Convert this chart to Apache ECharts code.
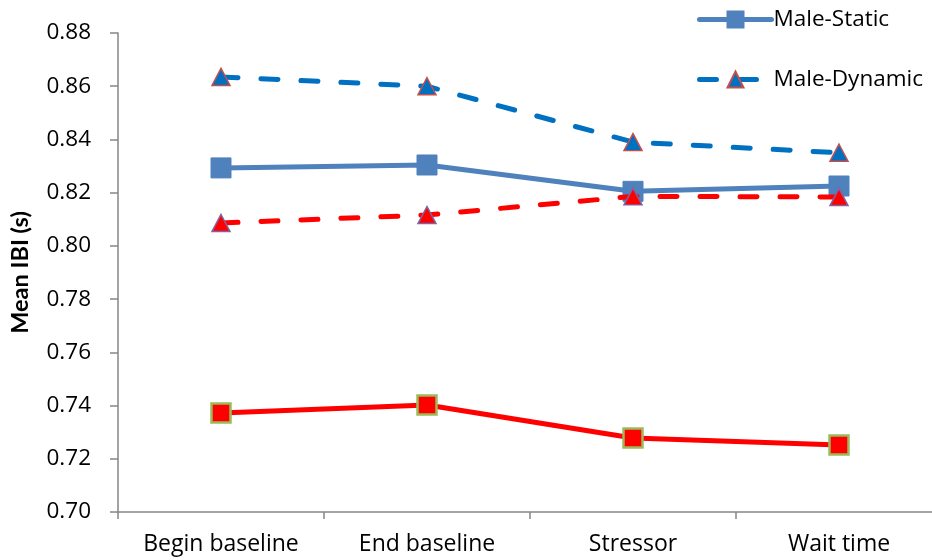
<!DOCTYPE html>
<html><head><meta charset="utf-8">
<script src="https://cdn.jsdelivr.net/npm/echarts@6/dist/echarts.min.js"></script>
<style>html,body{margin:0;padding:0;background:#fff;overflow:hidden;width:932px;height:560px}#c{width:942px;height:560px}</style>
</head><body><div id="c"></div>
<script>
const categories = ['Begin baseline', 'End baseline', 'Stressor', 'Wait time'];
const maleStatic = [0.8293, 0.8304, 0.8205, 0.8225];
const maleDynamic = [0.8635, 0.8600, 0.8390, 0.8350];
const femaleStatic = [0.7372, 0.7402, 0.7278, 0.7252];
const femaleDynamic = [0.8086, 0.8116, 0.8186, 0.8184];
const yTicks = ['0.70','0.72','0.74','0.76','0.78','0.80','0.82','0.84','0.86','0.88'];

const font = '"Open Sans", sans-serif';
const chart = echarts.init(document.getElementById('c'), null, {renderer: 'canvas'});
chart.setOption({
  animation: false,
  backgroundColor: '#fff',
  grid: {left: 117, top: 33, height: 479, right: 0, containLabel: false},
  legend: {
    data: ['Male-Static', 'Male-Dynamic'],
    orient: 'vertical', left: 697, top: 8, padding: 0,
    itemWidth: 72, itemHeight: 20, itemGap: 37,
    lineStyle: {width: 5, cap: 'round'},
    textStyle: {fontFamily: font, fontSize: 22.5, color: '#000', padding: [0,0,0,-3]}
  },
  xAxis: {
    type: 'category', data: categories, boundaryGap: true,
    axisLine: {lineStyle: {color: '#868686', width: 1.5}},
    axisTick: {show: true, length: 7, lineStyle: {color: '#868686', width: 1.5}},
    axisLabel: {fontFamily: font, fontSize: 23, color: '#000', margin: 21}
  },
  yAxis: {
    type: 'value', min: 0.70, max: 0.88, interval: 0.02,
    name: 'Mean IBI (s)', nameLocation: 'middle', nameGap: 86, nameRotate: 90,
    nameTextStyle: {fontFamily: 'Lato, "Open Sans", sans-serif', fontSize: 23.5, fontWeight: 'bold', color: '#000'},
    axisLine: {show: true, lineStyle: {color: '#868686', width: 1.5}},
    axisTick: {show: true, length: 8, lineStyle: {color: '#868686', width: 1.5}},
    splitLine: {show: false},
    axisLabel: {fontFamily: font, fontSize: 22.5, color: '#000', margin: 27,
      formatter: v => yTicks[Math.round((v - 0.70) / 0.02)]}
  },
  series: [
    {name: 'Male-Static', type: 'line', data: maleStatic, symbol: 'rect', symbolSize: 20,
      lineStyle: {color: '#4F81BD', width: 5}, itemStyle: {color: '#4F81BD', borderColor: '#4F81BD', borderWidth: 1}, z: 3},
    {name: 'Male-Dynamic', type: 'line', data: maleDynamic, symbol: 'triangle', symbolSize: [18, 17],
      lineStyle: {color: '#0070C0', width: 5, type: [17, 23], cap: 'round'},
      itemStyle: {color: '#0070C0', borderColor: '#C0504D', borderWidth: 1.5}, z: 3},
    {name: 'Female-Static', type: 'line', data: femaleStatic, symbol: 'rect', symbolSize: 19,
      lineStyle: {color: '#FF0000', width: 5}, itemStyle: {color: '#FF0000', borderColor: '#9BBB59', borderWidth: 2.5}, z: 2},
    {name: 'Female-Dynamic', type: 'line', data: femaleDynamic, symbol: 'triangle', symbolSize: [18, 17],
      lineStyle: {color: '#FF0000', width: 5, type: [17, 23], cap: 'round'},
      itemStyle: {color: '#FF0000', borderColor: '#8064A2', borderWidth: 1.5}, z: 4}
  ]
});
</script></body></html>
